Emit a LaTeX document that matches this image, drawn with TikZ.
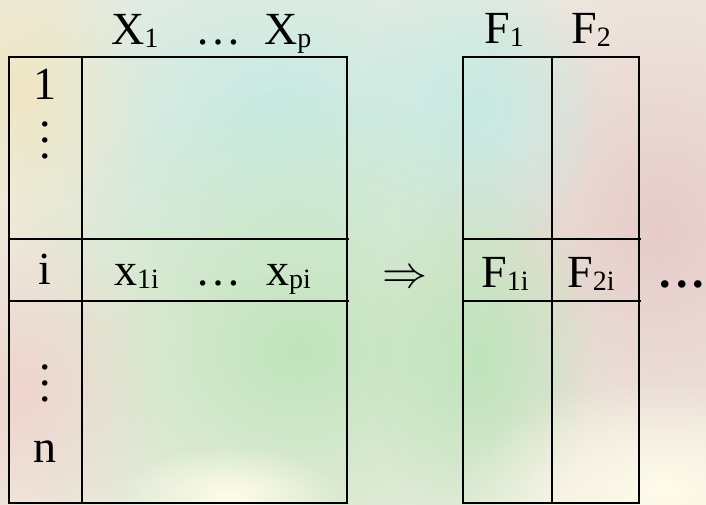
\documentclass[tikz,border=0pt]{standalone}
\usepackage{fontspec}
\usepackage{graphicx}
\setmainfont{Liberation Serif}
\usetikzlibrary{fadings}
\tikzfading[name=softblob, inner color=transparent!0, outer color=transparent!100]
\newcommand\sbx[1]{\raisebox{-3pt}{\fontsize{28}{30}\selectfont #1}}
\begin{document}
\begin{tikzpicture}[x=1pt,y=-1pt,
  lbl/.style={inner sep=0pt, anchor=base west, font=\fontsize{46}{50}\selectfont},
  lblc/.style={inner sep=0pt, anchor=base, font=\fontsize{46}{50}\selectfont},
  outer rule/.style={line width=2.6pt, line cap=rect},
  row rule/.style={line width=2.2pt},
  mid rule/.style={line width=1.6pt},
  blob/.style={fill=#1, path fading=softblob}]
% background
\fill[fill={rgb,255:red,240;green,238;blue,228}] (0,0) rectangle (706,505);
\useasboundingbox (0,0) rectangle (706,505);
\definecolor{bgcyan}{RGB}{198,234,226}
\definecolor{bggreen}{RGB}{192,228,188}
\definecolor{bgpink}{RGB}{230,204,200}
\definecolor{bgpinkl}{RGB}{238,212,204}
\definecolor{bgcream}{RGB}{255,252,234}
\definecolor{bgbeige}{RGB}{240,230,196}
\fill[blob=bgpink] (660,230) ellipse [x radius=260, y radius=320];
\fill[blob=bgcyan] (280,110) ellipse [x radius=330, y radius=220];
\fill[blob=bgcyan] (480,110) ellipse [x radius=120, y radius=150];
\fill[blob=bggreen] (300,350) ellipse [x radius=320, y radius=260];
\fill[blob=bggreen] (480,360) ellipse [x radius=110, y radius=180];
\fill[blob=bgpinkl] (20,390) ellipse [x radius=140, y radius=190];
\fill[blob=bgbeige] (20,90) ellipse [x radius=130, y radius=190];
\fill[blob=bgcream] (660,490) ellipse [x radius=200, y radius=110];
\fill[blob=bgcream] (230,495) ellipse [x radius=110, y radius=50];
% left table
\draw[outer rule] (9,57) rectangle (347,503);
\draw[outer rule] (82,57) -- (82,503);
\draw[row rule] (9,239) -- (349,239);
\draw[row rule] (9,301) -- (349,301);
% right table
\draw[outer rule] (463,57) rectangle (639,503);
\draw[mid rule] (552,57) -- (552,503);
\draw[row rule] (463,239) -- (641,239);
\draw[row rule] (463,301) -- (641,301);
% headers
\node[lbl] (hx1) at (111,45) {X\sbx{1}};
\node[lbl] (hdots) at (195,45) {…};
\node[lbl] (hxp) at (264,45) {X\sbx{p}};
\node[lbl] (hf1) at (484,44) {F\sbx{1}};
\node[lbl] (hf2) at (571,44) {F\sbx{2}};
% row labels
\node[lblc] (r1) at (45,100) {1};
\node[inner sep=0pt, anchor=base, font=\fontsize{46}{50}\selectfont] (rv1) at (45,159)
  {\vbox{\baselineskip=16pt\hbox{.}\hbox{.}\hbox{.}}};
\node[lblc] (ri) at (45,284) {i};
\node[inner sep=0pt, anchor=base, font=\fontsize{46}{50}\selectfont] (rv2) at (45,401)
  {\vbox{\baselineskip=16pt\hbox{.}\hbox{.}\hbox{.}}};
\node[lblc] (rn) at (45,462) {n};
% row i
\node[lbl] (x1i) at (114,285) {x\sbx{1i}};
\node[lbl] (xdots) at (195,285) {…};
\node[lbl] (xpi) at (266,285) {x\sbx{pi}};
\node[inner sep=0pt] (arr) at (405,279) {\resizebox{45pt}{!}{$\Rightarrow$}};
\node[lbl] (f1i) at (481,287) {F\sbx{1i}};
\node[lbl] (f2i) at (567,287) {F\sbx{2i}};
\node[lblc] (more) at (682,287) {\bfseries .\hspace{5pt}.\hspace{5pt}.};
\end{tikzpicture}
\end{document}
